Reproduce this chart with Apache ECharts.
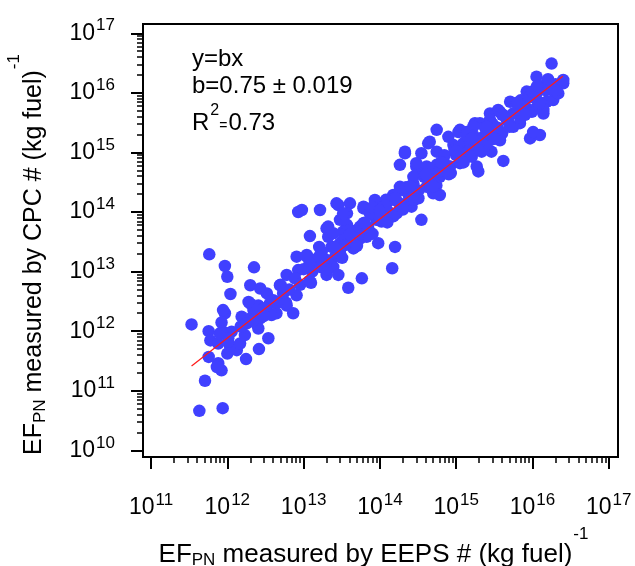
<!DOCTYPE html>
<html>
<head>
<meta charset="utf-8">
<script src="https://cdn.jsdelivr.net/npm/echarts@6/dist/echarts.min.js"></script>
<style>
  html, body { margin: 0; padding: 0; background: #fff; }
  #chart { width: 635px; height: 566px; }
</style>
</head>
<body>
<div id="chart"></div>
<script>
// EF_PN (# per kg fuel) measured by EEPS (x) and CPC (y), one entry per sample
const eepsPN = [
  3.4e11, 5.7e11, 6.0e11, 7.6e11, 9.3e11, 8.4e11, 8.8e11, 8.0e11, 1.14e12, 1.03e12,
  1.08e12, 1.0e12, 1.33e12, 1.47e12, 1.7e12, 1.54e12, 2.0e12, 1.8e12, 2.55e12, 2.4e12,
  2.7e12, 3.45e12, 2.6e12, 1.76e12, 5.7e11, 7.6e11, 8.4e11, 7.3e11, 5.1e11, 4.3e11,
  8.7e11, 2.0e12, 2.55e12, 3.6e12, 4.4e12, 6.0e12, 7.3e12, 3.8e12, 2.2e12, 5.8e11,
  9.3e11, 1.0e12, 2.24e12, 2.0e12, 1.1e12, 8.8e11, 1.9e12, 2.7e12, 3.3e12, 4.0e12,
  4.9e12, 6.0e12, 8.1e12, 1.1e13, 8.5e12, 7.7e12, 8.1e12, 5.9e12, 5.4e12, 1.34e13,
  1.64e13, 2.0e13, 1.73e13, 2.45e13, 2.85e13, 2.0e13, 3.85e13, 5.8e13, 1.45e14, 2.33e13,
  3.0e13, 2.1e13, 2.0e13, 3.3e13, 4.05e13, 4.7e13, 5.5e13, 6.7e13, 5.0e13, 6.1e13,
  3.7e13, 9.5e13, 1.58e14, 1.21e13, 8.5e12, 1.64e13, 2.7e13, 4.05e13, 3.7e13, 3.0e13,
  6.1e13, 8.6e13, 8.2e13, 1.05e14, 1.0e14, 1.5e14, 1.66e14, 2.25e14, 2.0e14, 3.0e14,
  2.75e14, 3.35e14, 4.1e14, 5.0e14, 6.1e14, 3.5e14, 1.83e14, 3.0e14, 4.5e14, 6.1e14,
  5.55e14, 8.3e14, 1.12e15, 1.95e15, 4.15e15, 5.55e14, 7.9e14, 1.12e15, 1.37e15, 1.76e15,
  4.5e14, 3.5e14, 2.13e14, 5.55e14, 6.8e14, 9.2e14, 1.0e15, 1.24e15, 1.52e15, 1.37e15,
  1.12e15, 1.86e15, 2.27e15, 2.16e15, 2.9e15, 2.77e15, 3.75e15, 3.4e15, 2.77e15, 3.55e15,
  4.6e15, 5.6e15, 6.85e15, 5.6e15, 5.1e15, 6.5e15, 8.8e15, 1.13e16, 9.8e15, 1.39e16,
  1.02e16, 1.25e16, 9.3e15, 1.53e16, 1.87e16, 2.18e16, 1.46e16, 2.53e16, 3.35e14, 2.75e14,
  4.1e14, 5.0e14, 2.5e14, 1.83e14, 2.6e14, 6.1e13, 1.1e14, 2.85e13, 3.3e13, 9.5e12,
  2.1e13, 2.45e13, 3.3e13, 4.5e13, 6.7e13, 9.0e13, 7.4e13, 5.5e13, 4.5e13, 3.0e13,
  1.1e13, 1.78e16, 1.13e16, 2.53e16, 8.4e15, 6.5e15, 3.75e15, 1.02e16, 1.39e16, 2.77e15,
  2.05e15, 1.67e15, 1.02e16, 1.07e15, 1.37e15, 2.5e15, 4.3e14, 2.13e14, 3.0e14, 1.86e15,
  1.5e12, 2.2e12, 3.0e12, 4.5e12, 6.5e12, 9.0e12, 1.3e13, 1.8e13, 2.6e13, 3.5e13,
  5.0e13, 7.0e13, 1.0e14, 1.3e14, 1.8e14, 2.4e14, 3.2e14, 4.5e14, 6.0e14, 8.0e14,
  1.1e15, 1.5e15, 2.0e15, 2.8e15, 3.5e15, 4.8e15, 6.0e15, 8.0e15, 1.1e16, 1.5e16,
  2.0e16, 8.0e13, 1.5e14, 7.0e14, 3.0e15, 7.0e15, 1.2e13, 5.0e12, 4.0e13, 1.2e14,
  1.2e14, 2.2e14, 3.8e14, 6.5e14, 9.5e14, 1.7e15, 2.4e15, 4.2e15, 9.0e15, 1.3e16,
  1.5e14, 2.8e14, 5.5e14, 8.5e14, 1.6e15, 2.4e15, 4.0e15, 7.0e15, 1.2e16, 1.9e16,
  3.0e12, 1.2e13, 2.2e13, 5.5e12, 1.6e13,
  1.0e13, 1.25e13, 1.6e13, 2.0e13, 2.5e13, 3.2e13, 4.0e13, 5.0e13, 6.3e13, 8.0e13,
  1.0e14, 1.25e14, 1.6e14, 2.0e14, 2.5e14, 3.2e14, 4.0e14, 5.0e14, 6.3e14, 8.0e14,
  1.0e15, 1.25e15, 1.6e15, 2.0e15, 2.5e15, 3.2e15, 4.0e15, 5.0e15, 6.3e15, 8.0e15,
  1.0e16, 1.25e16, 1.6e16, 2.0e16, 1.15e16
];
const cpcPN = [
  1.3e12, 1.0e12, 7.0e11, 6.2e11, 2.0e12, 1.4e12, 9.8e11, 9.2e11, 9.8e11, 7.6e11,
  5.8e11, 4.2e11, 4.8e11, 6.2e11, 8.6e11, 1.75e12, 1.64e12, 1.35e12, 1.11e12, 1.35e12,
  1.64e12, 7.6e11, 5.0e11, 3.4e11, 3.7e11, 2.9e11, 2.2e11, 2.5e11, 1.47e11, 4.6e10,
  5.1e10, 2.9e12, 2.7e12, 2.9e12, 2.0e12, 2.7e12, 2.0e12, 1.86e12, 2.26e12, 1.95e13,
  1.24e13, 8.2e12, 1.18e13, 5.9e12, 4.2e12, 2.26e12, 3.1e12, 5.2e12, 4.3e12, 3.3e12,
  5.9e12, 8.8e12, 1.78e13, 1.9e13, 1.06e13, 7.7e12, 4.0e12, 3.0e12, 4.3e12, 1.57e13,
  1.2e13, 1.57e13, 2.16e13, 1.2e13, 8.8e12, 8.8e12, 5.35e12, 7.7e12, 1.14e13, 2.6e13,
  3.0e13, 3.85e13, 5.3e13, 4.7e13, 3.6e13, 2.6e13, 3.6e13, 4.1e13, 5.0e13, 6.5e13,
  6.1e13, 3.0e13, 2.6e13, 3.95e13, 1.0e14, 1.08e14, 1.4e14, 1.4e14, 9.5e13, 7.4e13,
  1.15e14, 1.59e14, 8.9e13, 6.9e13, 1.08e14, 1.93e14, 9.5e13, 1.4e14, 2.34e14, 1.8e14,
  3.0e14, 4.5e14, 2.65e14, 2.06e14, 1.93e14, 7.4e13, 6.2e14, 5.8e14, 4.5e14, 3.9e14,
  6.2e14, 5.8e14, 7.0e14, 4.8e14, 7.2e14, 2.4e15, 1.83e15, 2.4e15, 2.2e15, 3.1e15,
  1.51e15, 9.7e14, 1.03e15, 1.03e15, 7.5e14, 1.33e15, 9.0e14, 1.42e15, 1.6e15, 1.03e15,
  6.6e14, 1.25e15, 1.83e15, 1.03e15, 1.03e15, 1.6e15, 1.6e15, 2.4e15, 4.5e15, 5.15e15,
  3.5e15, 2.7e15, 3.1e15, 4.5e15, 7.1e15, 6.7e15, 9.8e15, 9.8e15, 4.8e15, 4.5e15,
  1.96e15, 1.96e15, 1.72e15, 7.1e15, 7.6e15, 9.8e15, 1.36e16, 1.45e16, 5.15e14, 3.9e14,
  5.8e14, 3.45e14, 2.34e14, 2.65e14, 1.23e14, 1.23e14, 1.23e14, 1.31e14, 9.5e13, 1.08e14,
  5.7e13, 4.4e13, 3.4e13, 4.4e13, 3.85e13, 7.4e13, 9.5e13, 5.7e13, 2.45e13, 2.03e13,
  1.78e13, 3.1e16, 1.87e16, 1.65e16, 1.05e16, 6.2e15, 4.8e15, 5.15e15, 5.15e15, 3.5e15,
  3.1e15, 2.7e15, 2.2e15, 2.2e15, 1.96e15, 1.96e15, 1.42e15, 9.7e14, 6.6e14, 5.8e14,
  1.2e12, 1.5e12, 2.4e12, 3.0e12, 5.0e12, 6.0e12, 1.0e13, 1.5e13, 1.8e13, 2.8e13,
  3.6e13, 5.5e13, 8.0e13, 1.0e14, 1.4e14, 1.9e14, 2.3e14, 3.3e14, 4.8e14, 5.8e14,
  8.5e14, 1.1e15, 1.5e15, 2.1e15, 2.6e15, 3.4e15, 4.6e15, 6.0e15, 8.0e15, 1.1e16,
  1.4e16, 1.2e14, 1.6e14, 9.0e14, 3.0e15, 7.5e15, 1.4e13, 6.0e12, 5.0e13, 1.6e14,
  1.3e14, 2.6e14, 3.9e14, 6.8e14, 1.1e15, 1.9e15, 2.6e15, 4.2e15, 8.5e15, 1.2e16,
  8.5e13, 1.6e14, 2.8e14, 4.5e14, 8.5e14, 1.3e15, 2.1e15, 3.8e15, 6.5e15, 1.1e16,
  1.8e12, 7.0e12, 1.3e13, 4.5e12, 2.6e13,
  1.1e13, 6.5e12, 1.8e13, 1.1e13, 2.6e13, 1.7e13, 4.2e13, 2.7e13, 6.6e13, 4.3e13,
  1.05e14, 6.7e13, 1.7e14, 1.1e14, 2.7e14, 1.7e14, 4.3e14, 2.7e14, 6.8e14, 4.3e14,
  1.05e15, 6.8e14, 1.7e15, 1.1e15, 2.7e15, 1.7e15, 4.3e15, 2.7e15, 6.8e15, 4.3e15,
  1.05e16, 6.8e15, 1.7e16, 1.1e16, 1.3e16
];

// fitted line y = b x, drawn between its two end points
const fitX = [3.4e11, 2.5e16];
const fitY = [2.6e11, 1.9e16];
const fitSlope = '0.75';
const fitSlopeErr = '0.019';
const fitR2 = '0.73';

// decade exponents for tick labels
const xTickExp = [11, 12, 13, 14, 15, 16, 17];
const yTickExp = [10, 11, 12, 13, 14, 15, 16, 17];

const FONT = "'Liberation Sans', Arial, sans-serif";
const X_EXP = [10.895, 17.121];
const Y_EXP = [9.888, 17.156];

function minorTicks (exps) {
  const out = [];
  exps.slice(0, -1).forEach(n => {
    for (let k = 2; k <= 9; k++) out.push(n + Math.log10(k));
  });
  return out;
}

const tickRich = {
  b: { fontSize: 23, lineHeight: 23, fontFamily: FONT, color: '#000', padding: [9, 0, 0, 0] },
  s: { fontSize: 17, lineHeight: 17, fontFamily: FONT, color: '#000', verticalAlign: 'top', padding: [0, 0, 0, 1] }
};
const tickFmt = v => '{b|10}{s|' + Math.round(v) + '}';

function nameRich (size) {
  return {
    m: { fontSize: size, lineHeight: size, fontFamily: FONT, color: '#000', verticalAlign: 'top', padding: [16, 0, 0, 0] },
    sub: { fontSize: 17, lineHeight: 17, fontFamily: FONT, color: '#000', verticalAlign: 'top', padding: [26, 0, 0, 0] },
    sup: { fontSize: 17, lineHeight: 17, fontFamily: FONT, color: '#000', verticalAlign: 'top', padding: [0, 0, 0, 1] }
  };
}

function tickAxis (dim, exps, range, major) {
  const isX = dim === 'x';
  const ax = {
    type: 'value',
    min: range[0],
    max: range[1],
    position: isX ? 'bottom' : 'left',
    axisLine: { show: false, onZero: false },
    splitLine: { show: false },
    axisTick: {
      show: true,
      customValues: major ? exps : minorTicks(exps),
      length: major ? 12 : 6,
      lineStyle: { color: '#000', width: major ? 2 : 1.5 }
    },
    axisLabel: { show: false }
  };
  if (major) {
    ax.axisLabel = {
      show: true,
      customValues: exps,
      formatter: tickFmt,
      rich: tickRich,
      margin: isX ? 35 : 28,
      padding: isX ? 0 : [0, 0, 9, 0]
    };
  }
  return ax;
}

const chart = echarts.init(document.getElementById('chart'));
const option = {
  animation: false,
  backgroundColor: '#fff',
  grid: {
    left: 143, top: 24, right: 17, bottom: 109,
    show: true, borderColor: '#000', borderWidth: 2, backgroundColor: '#fff',
    outerBoundsMode: 'none'
  },
  xAxis: [
    { type: 'log', logBase: 10, min: Math.pow(10, X_EXP[0]), max: Math.pow(10, X_EXP[1]), show: false },
    Object.assign(tickAxis('x', xTickExp, X_EXP, true), {
      name: '{m|EF}{sub|PN}{m| measured by EEPS # (kg fuel)}{sup|-1}',
      nameLocation: 'middle',
      nameGap: 69,
      nameMoveOverlap: false,
      nameTextStyle: { rich: nameRich(26), padding: [0, 14, 0, 0] }
    }),
    tickAxis('x', xTickExp, X_EXP, false)
  ],
  yAxis: [
    { type: 'log', logBase: 10, min: Math.pow(10, Y_EXP[0]), max: Math.pow(10, Y_EXP[1]), show: false },
    Object.assign(tickAxis('y', yTickExp, Y_EXP, true), {
      name: '{m|EF}{sub|PN}{m| measured by CPC # (kg fuel)}{sup|-1}',
      nameLocation: 'middle',
      nameGap: 112,
      nameMoveOverlap: false,
      nameTextStyle: { rich: nameRich(25), padding: [0, 28, 0, 0] }
    }),
    tickAxis('y', yTickExp, Y_EXP, false)
  ],
  graphic: [
    { type: 'text', left: 192, top: 47, style: { text: 'y=bx', font: '24px ' + FONT, fill: '#000' } },
    { type: 'text', left: 192, top: 74, style: { text: 'b=' + fitSlope + ' \u00b1 ' + fitSlopeErr, font: '24px ' + FONT, fill: '#000' } },
    {
      type: 'text', left: 192, top: 103,
      style: {
        text: '{m|R}{s|2}{e|=}{m|' + fitR2 + '}',
        rich: {
          m: { fontSize: 24, lineHeight: 24, fontFamily: FONT, color: '#000', verticalAlign: 'top', padding: [8, 0, 0, 0] },
          s: { fontSize: 16, lineHeight: 16, fontFamily: FONT, color: '#000', verticalAlign: 'top', padding: [0, 0, 0, 1] },
          e: { fontSize: 14, lineHeight: 14, fontFamily: FONT, color: '#000', verticalAlign: 'top', padding: [16, 1, 0, 0] }
        }
      }
    }
  ],
  series: [
    {
      type: 'scatter',
      xAxisIndex: 0,
      yAxisIndex: 0,
      symbol: 'circle',
      symbolSize: 12.5,
      itemStyle: { color: '#4040ff', opacity: 1 },
      silent: true,
      z: 2,
      data: eepsPN.map((x, i) => [x, cpcPN[i]])
    },
    {
      type: 'line',
      xAxisIndex: 0,
      yAxisIndex: 0,
      showSymbol: false,
      silent: true,
      lineStyle: { color: '#ff1a1a', width: 1.2 },
      z: 3,
      data: fitX.map((x, i) => [x, fitY[i]])
    }
  ]
};
chart.setOption(option);
</script>
</body>
</html>
